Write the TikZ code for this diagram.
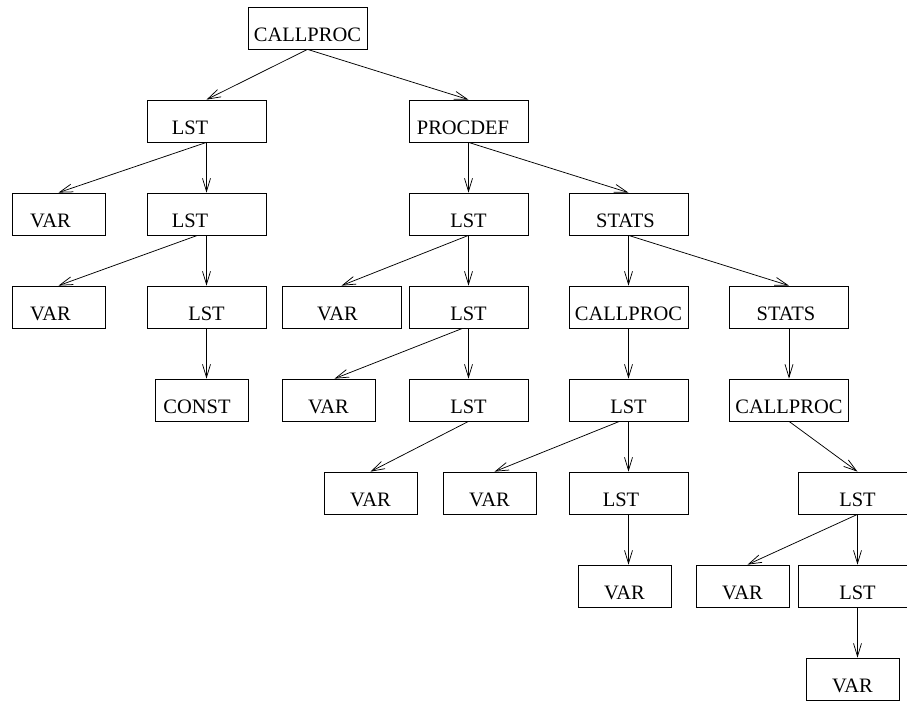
\documentclass[tikz,border=0pt]{standalone}
\usepackage{fontspec}
\setmainfont{Liberation Serif}
\usetikzlibrary{arrows.meta}

\tikzset{
  box/.style={draw, line width=0.75pt, minimum width=119pt, minimum height=42pt,
    inner sep=2pt, text height=26pt, text depth=0pt, font=\fontsize{20.5}{24}\selectfont},
  nbox/.style={box, minimum width=93pt},
  pad/.style={execute at end node={\hspace*{#1}}},
  link/.style={->, line width=0.75pt}
}

\begin{document}
\begin{tikzpicture}[x=1pt,y=-1pt,>={Straight Barb[length=13pt,width=8pt]}]
  \useasboundingbox (0,0) rectangle (907,702);

  \node[box] (cp0) at (307.5,28) {CALLPROC};

  \node[box,pad=33pt] (lst1) at (206.5,121) {LST};
  \node[box,pad=11pt] (pdef) at (468.5,121) {PROCDEF};

  \node[nbox,pad=16pt] (var2) at (58.5,214) {VAR};
  \node[box,pad=33pt] (lst2) at (206.5,214) {LST};
  \node[box] (lst2b) at (468.5,214) {LST};
  \node[box,pad=6pt] (stats2) at (628.5,214) {STATS};

  \node[nbox,pad=16pt] (var3) at (58.5,307) {VAR};
  \node[box] (lst3) at (206.5,307) {LST};
  \node[box,pad=8pt] (var3b) at (341.5,307) {VAR};
  \node[box] (lst3b) at (468.5,307) {LST};
  \node[box] (cp3) at (628.5,307) {CALLPROC};
  \node[box,pad=6pt] (stats3) at (789,307) {STATS};

  \node[nbox,pad=9pt] (const4) at (201.5,400) {CONST};
  \node[nbox] (var4) at (328.5,400) {VAR};
  \node[box] (lst4) at (468.5,400) {LST};
  \node[box] (lst4b) at (628.5,400) {LST};
  \node[box] (cp4) at (789,400) {CALLPROC};

  \node[nbox] (var5) at (370.5,493) {VAR};
  \node[nbox] (var5b) at (489.5,493) {VAR};
  \node[box,pad=15pt] (lst5) at (628.5,493) {LST};
  \node[box] (lst5b) at (857.5,493) {LST};

  \node[nbox] (var6) at (624.5,586) {VAR};
  \node[nbox] (var6b) at (742.5,586) {VAR};
  \node[box] (lst6) at (857.5,586) {LST};

  \node[nbox] (var7) at (852.5,679) {VAR};

  % left branch
  \draw[link] (cp0.south) -- (lst1.north);
  \draw[link] (lst1.south) -- (var2.north);
  \draw[link] (lst1.south) -- (lst2.north);
  \draw[link] ([xshift=-9pt]lst2.south) -- (var3.north);
  \draw[link] (lst2.south) -- (lst3.north);
  \draw[link] (lst3.south) -- (lst3.south |- const4.north);

  % procdef
  \draw[link] (cp0.south) -- (pdef.north);
  \draw[link] (pdef.south) -- (lst2b.north);
  \draw[link] (pdef.south) -- (stats2.north);
  \draw[link] (lst2b.south) -- (var3b.north);
  \draw[link] (lst2b.south) -- (lst3b.north);
  \draw[link] ([xshift=-6pt]lst3b.south) -- ([xshift=6pt]var4.north);
  \draw[link] (lst3b.south) -- (lst4.north);
  \draw[link] (lst4.south) -- (var5.north);

  % stats
  \draw[link] (stats2.south) -- (cp3.north);
  \draw[link] (stats2.south) -- (stats3.north);
  \draw[link] (cp3.south) -- (lst4b.north);
  \draw[link] ([xshift=-9pt]lst4b.south) -- ([xshift=5pt]var5b.north);
  \draw[link] (lst4b.south) -- (lst5.north);
  \draw[link] (lst5.south) -- (lst5.south |- var6.north);
  \draw[link] (stats3.south) -- (cp4.north);
  \draw[link] (cp4.south) -- (lst5b.north);
  \draw[link] (lst5b.south) -- ([xshift=5pt]var6b.north);
  \draw[link] (lst5b.south) -- (lst6.north);
  \draw[link] (lst6.south) -- (lst6.south |- var7.north);
\end{tikzpicture}
\end{document}
